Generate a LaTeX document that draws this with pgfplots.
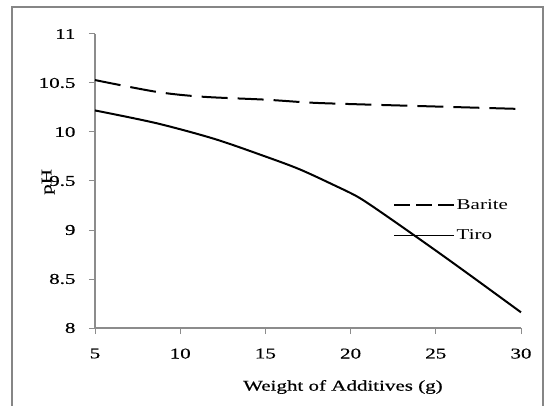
\documentclass[border=0pt]{standalone}
\usepackage{fontspec}
\setmainfont{Liberation Serif}[FakeStretch=1.4]
\newfontfamily\tickfont{Liberation Serif}[FakeStretch=1.4, FakeBold=0.5]
\usepackage{pgfplots}
\pgfplotsset{compat=1.18}
\definecolor{framegray}{RGB}{134,134,134}
\definecolor{axisgray}{RGB}{140,140,140}
\begin{document}
\begin{tikzpicture}[x=1pt,y=1pt]
\useasboundingbox (0,0) rectangle (547,405);
\draw[framegray, line width=1.5pt] (12,-2) -- (12,398) -- (543,398) -- (543,-2);
\begin{axis}[
  at={(95pt,77pt)}, anchor=south west,
  scale only axis, width=426pt, height=294pt,
  xmin=5, xmax=30, ymin=8, ymax=11,
  axis x line=bottom, axis y line=left,
  axis line style={-, axisgray, line width=1.2pt},
  xtick={5,10,15,20,25,30},
  ytick={8,8.5,9,9.5,10,10.5,11},
  yticklabels={8,8.5,9,9.5,10,10.5,11},
  tick align=outside,
  major tick length=6pt,
  tick style={axisgray, line width=1pt},
  /pgf/number format/assume math mode=true,
  tick label style={font=\tickfont\fontsize{15}{18}\selectfont, black},
  xticklabel style={yshift=-11pt},
  yticklabel style={xshift=-10pt},
  xlabel={Weight of Additives (g)},
  xlabel style={at={(axis description cs:0.582,-0.2007)}, anchor=center, font=\tickfont\fontsize{15}{18}\selectfont},
  ylabel={pH},
  ylabel style={at={(axis description cs:-0.110,0.497)}, anchor=center, rotate=0, font=\tickfont\fontsize{15}{18}\selectfont},
  legend style={at={(axis cs:22.5,9.336)}, anchor=north west, draw=none, fill=none,
    font=\fontsize{15}{18}\selectfont, inner sep=0pt, row sep=15pt},
  legend cell align=left,
  legend image code/.code={\draw[#1] (0pt,0pt) -- (60pt,0pt);},
  clip=false,
]
\addplot[black, line width=2pt, dash pattern=on 26pt off 10pt, smooth, forget plot] coordinates {
  (5,10.53) (8.6,10.41) (11.3,10.36) (15,10.33) (17.6,10.30) (20,10.285) (25,10.26) (30,10.235)
};
\addplot[black, line width=2pt, smooth, forget plot] coordinates {
  (5,10.22) (8.6,10.09) (12,9.93) (15,9.75) (17,9.62) (19,9.46) (20.5,9.33) (22.3,9.12) (25,8.79) (27,8.54) (30,8.16)
};
\addlegendimage{black, line width=1.3pt, dash pattern=on 16pt off 6pt}
\addlegendentry{Barite}
\addlegendimage{black, line width=1.3pt}
\addlegendentry{Tiro}
\end{axis}
\end{tikzpicture}
\end{document}
